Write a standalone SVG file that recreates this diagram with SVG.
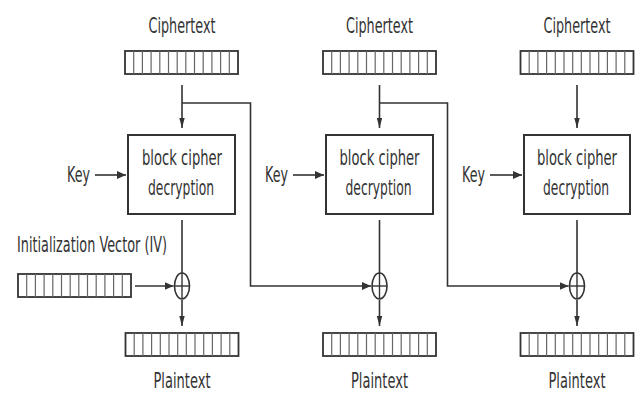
<svg xmlns="http://www.w3.org/2000/svg" xmlns:xlink="http://www.w3.org/1999/xlink" width="638" height="394" viewBox="0 0 638 394">
  <style>
    .lbl { font-family: "DejaVu Sans", "Liberation Sans", sans-serif; font-size: 22px; fill: #333; text-anchor: middle; }
    .box { fill: #fff; stroke: #333; stroke-width: 2; }
    .wire { fill: none; stroke: #333; stroke-width: 1.6; }
    .xor { fill: #fff; stroke: #333; stroke-width: 1.6; }
    .cellline { stroke: #666; stroke-width: 1.2; }
    .barframe { fill: #fff; stroke: #333; stroke-width: 1.8; }
  </style>
  <defs>
    <!-- horizontal arrowhead -->
    <marker id="arrH" markerUnits="userSpaceOnUse" markerWidth="10" markerHeight="10" refX="9" refY="5" orient="auto">
      <path d="M0,1 L9,5 L0,9 Z" fill="#333"/>
    </marker>
    <!-- narrower arrowhead for vertical flows -->
    <marker id="arrV" markerUnits="userSpaceOnUse" markerWidth="11" markerHeight="8" refX="10" refY="4" orient="auto">
      <path d="M0,1.3 L10,4 L0,6.7 Z" fill="#333"/>
    </marker>
    <!-- 13-cell data block -->
    <g id="bar">
      <rect class="barframe" x="0" y="0" width="113" height="23"/>
      <g class="cellline">
        <line x1="8.7" y1="0" x2="8.7" y2="23"/>
        <line x1="17.4" y1="0" x2="17.4" y2="23"/>
        <line x1="26.1" y1="0" x2="26.1" y2="23"/>
        <line x1="34.8" y1="0" x2="34.8" y2="23"/>
        <line x1="43.5" y1="0" x2="43.5" y2="23"/>
        <line x1="52.2" y1="0" x2="52.2" y2="23"/>
        <line x1="60.8" y1="0" x2="60.8" y2="23"/>
        <line x1="69.5" y1="0" x2="69.5" y2="23"/>
        <line x1="78.2" y1="0" x2="78.2" y2="23"/>
        <line x1="86.9" y1="0" x2="86.9" y2="23"/>
        <line x1="95.6" y1="0" x2="95.6" y2="23"/>
        <line x1="104.3" y1="0" x2="104.3" y2="23"/>
      </g>
    </g>
    <!-- XOR symbol -->
    <g id="xor">
      <ellipse class="xor" cx="0" cy="0" rx="7.5" ry="13"/>
      <line x1="-7.5" y1="0" x2="7.5" y2="0" stroke="#333" stroke-width="1.4"/>
      <line x1="0" y1="-13" x2="0" y2="13" stroke="#333" stroke-width="1.4"/>
    </g>
  </defs>

  <!-- connectors -->
  <g id="connectors">
    <!-- ciphertext into decryption -->
    <line class="wire" x1="182" y1="85" x2="182" y2="128" marker-end="url(#arrV)"/>
    <line class="wire" x1="379.5" y1="85" x2="379.5" y2="128" marker-end="url(#arrV)"/>
    <line class="wire" x1="577" y1="85" x2="577" y2="128" marker-end="url(#arrV)"/>
    <!-- keys -->
    <line class="wire" x1="95" y1="175" x2="126" y2="175" marker-end="url(#arrH)"/>
    <line class="wire" x1="293" y1="175" x2="324" y2="175" marker-end="url(#arrH)"/>
    <line class="wire" x1="490" y1="175" x2="522" y2="175" marker-end="url(#arrH)"/>
    <!-- decryption output into XOR -->
    <line class="wire" x1="182" y1="220" x2="182" y2="273"/>
    <line class="wire" x1="379.5" y1="220" x2="379.5" y2="273"/>
    <line class="wire" x1="577" y1="220" x2="577" y2="273"/>
    <!-- IV into first XOR -->
    <line class="wire" x1="135" y1="286" x2="173.5" y2="286" marker-end="url(#arrH)"/>
    <!-- previous ciphertext feed-forward -->
    <path class="wire" d="M182,103 H250.5 V286 H371" marker-end="url(#arrH)"/>
    <path class="wire" d="M379.5,103 H447.5 V286 H568.5" marker-end="url(#arrH)"/>
    <!-- XOR output to plaintext -->
    <line class="wire" x1="182" y1="300" x2="182" y2="326" marker-end="url(#arrV)"/>
    <line class="wire" x1="379.5" y1="300" x2="379.5" y2="326" marker-end="url(#arrV)"/>
    <line class="wire" x1="577" y1="300" x2="577" y2="326" marker-end="url(#arrV)"/>
  </g>

  <!-- stage 1 -->
  <g id="ciphertext1">
    <text class="lbl" transform="translate(182,33) scale(0.55,1)" textLength="121.8" lengthAdjust="spacingAndGlyphs">Ciphertext</text>
    <use xlink:href="#bar" x="125" y="51"/>
  </g>
  <g id="key1">
    <text class="lbl" transform="translate(78.5,182) scale(0.55,1)" textLength="41.8" lengthAdjust="spacingAndGlyphs">Key</text>
  </g>
  <g id="decrypt1">
    <rect class="box" x="128" y="135" width="107" height="79"/>
    <text class="lbl" transform="translate(182,165) scale(0.55,1)" textLength="145.5" lengthAdjust="spacingAndGlyphs">block cipher</text>
    <text class="lbl" transform="translate(181,195) scale(0.55,1)" textLength="120" lengthAdjust="spacingAndGlyphs">decryption</text>
  </g>
  <g id="iv">
    <text class="lbl" transform="translate(92,252) scale(0.55,1)" textLength="272.7" lengthAdjust="spacingAndGlyphs">Initialization Vector (IV)</text>
    <use xlink:href="#bar" x="18" y="274"/>
  </g>
  <g id="xor1"><use xlink:href="#xor" x="182" y="286"/></g>
  <g id="plaintext1">
    <use xlink:href="#bar" x="125.5" y="333"/>
    <text class="lbl" transform="translate(182,388) scale(0.55,1)" textLength="103.6" lengthAdjust="spacingAndGlyphs">Plaintext</text>
  </g>

  <!-- stage 2 -->
  <g id="ciphertext2">
    <text class="lbl" transform="translate(379.5,33) scale(0.55,1)" textLength="121.8" lengthAdjust="spacingAndGlyphs">Ciphertext</text>
    <use xlink:href="#bar" x="323" y="51"/>
  </g>
  <g id="key2">
    <text class="lbl" transform="translate(276.5,182) scale(0.55,1)" textLength="41.8" lengthAdjust="spacingAndGlyphs">Key</text>
  </g>
  <g id="decrypt2">
    <rect class="box" x="326" y="135" width="107" height="79"/>
    <text class="lbl" transform="translate(379.5,165) scale(0.55,1)" textLength="145.5" lengthAdjust="spacingAndGlyphs">block cipher</text>
    <text class="lbl" transform="translate(378.5,195) scale(0.55,1)" textLength="120" lengthAdjust="spacingAndGlyphs">decryption</text>
  </g>
  <g id="xor2"><use xlink:href="#xor" x="379.5" y="286"/></g>
  <g id="plaintext2">
    <use xlink:href="#bar" x="323" y="333"/>
    <text class="lbl" transform="translate(379.5,388) scale(0.55,1)" textLength="103.6" lengthAdjust="spacingAndGlyphs">Plaintext</text>
  </g>

  <!-- stage 3 -->
  <g id="ciphertext3">
    <text class="lbl" transform="translate(577,33) scale(0.55,1)" textLength="121.8" lengthAdjust="spacingAndGlyphs">Ciphertext</text>
    <use xlink:href="#bar" x="520.5" y="51"/>
  </g>
  <g id="key3">
    <text class="lbl" transform="translate(473.5,182) scale(0.55,1)" textLength="41.8" lengthAdjust="spacingAndGlyphs">Key</text>
  </g>
  <g id="decrypt3">
    <rect class="box" x="524" y="135" width="106" height="79"/>
    <text class="lbl" transform="translate(577,165) scale(0.55,1)" textLength="145.5" lengthAdjust="spacingAndGlyphs">block cipher</text>
    <text class="lbl" transform="translate(576,195) scale(0.55,1)" textLength="120" lengthAdjust="spacingAndGlyphs">decryption</text>
  </g>
  <g id="xor3"><use xlink:href="#xor" x="577" y="286"/></g>
  <g id="plaintext3">
    <use xlink:href="#bar" x="520.5" y="333"/>
    <text class="lbl" transform="translate(577,388) scale(0.55,1)" textLength="103.6" lengthAdjust="spacingAndGlyphs">Plaintext</text>
  </g>
</svg>
